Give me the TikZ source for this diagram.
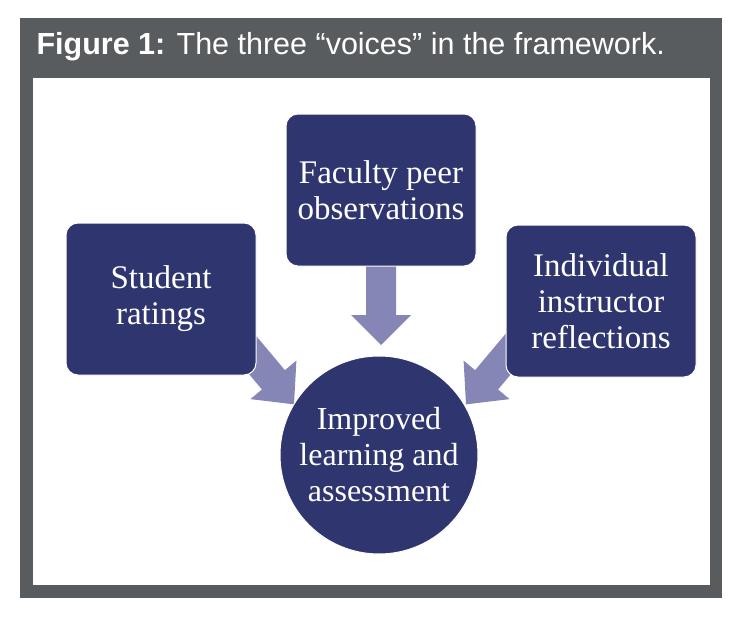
\documentclass[tikz,border=0pt]{standalone}
\usepackage{fontspec}
\setmainfont{Liberation Serif}
\newfontfamily\titlefont{Liberation Sans}
\definecolor{navy}{HTML}{2E356F}
\definecolor{arrowc}{HTML}{8586B5}
\definecolor{frame}{HTML}{595C5E}
\begin{document}
\begin{tikzpicture}[x=1pt,y=-1pt,
  box/.style={fill=navy,draw=white,line width=1pt,rounded corners=12pt,minimum width=190pt,minimum height=152pt,text=white,align=center,font=\fontsize{33}{36}\selectfont},
  blockarrow/.style={fill=arrowc}]
\useasboundingbox (0,0) rectangle (750,618);
\fill[white] (0,0) rectangle (750,618);
\fill[frame] (20,18) rectangle (722,598);
\fill[white] (33,78) rectangle (710,585);
\node[anchor=west,text=white,font=\titlefont\fontsize{30.5}{33}\selectfont] (title) at (33,47) {\textbf{Figure 1:} The three “voices” in the framework.};
% arrows
\fill[blockarrow,shift={(381,262)},rotate=-90] (0,-15)--(53,-15)--(53,-30)--(83,0)--(53,30)--(53,15)--(0,15)--cycle;
\fill[blockarrow,shift={(240,340)},rotate=-50] (0,-15)--(52,-15)--(52,-30)--(84,0)--(52,30)--(52,15)--(0,15)--cycle;
\fill[blockarrow,shift={(520,340)},rotate=-130] (0,-15)--(52,-15)--(52,-30)--(84,0)--(52,30)--(52,15)--(0,15)--cycle;
\node[box] (student) at (161,299) {Student\\ratings};
\node[box] (faculty) at (381,190) {Faculty peer\\observations};
\node[box] (indiv) at (601,301) {Individual\\instructor\\reflections};
\node[circle,fill=navy,draw=white,line width=1pt,minimum size=198pt,inner sep=0pt,text=white,align=center,font=\fontsize{32}{36}\selectfont] (improved) at (379,455) {Improved\\learning and\\assessment};
\end{tikzpicture}
\end{document}
